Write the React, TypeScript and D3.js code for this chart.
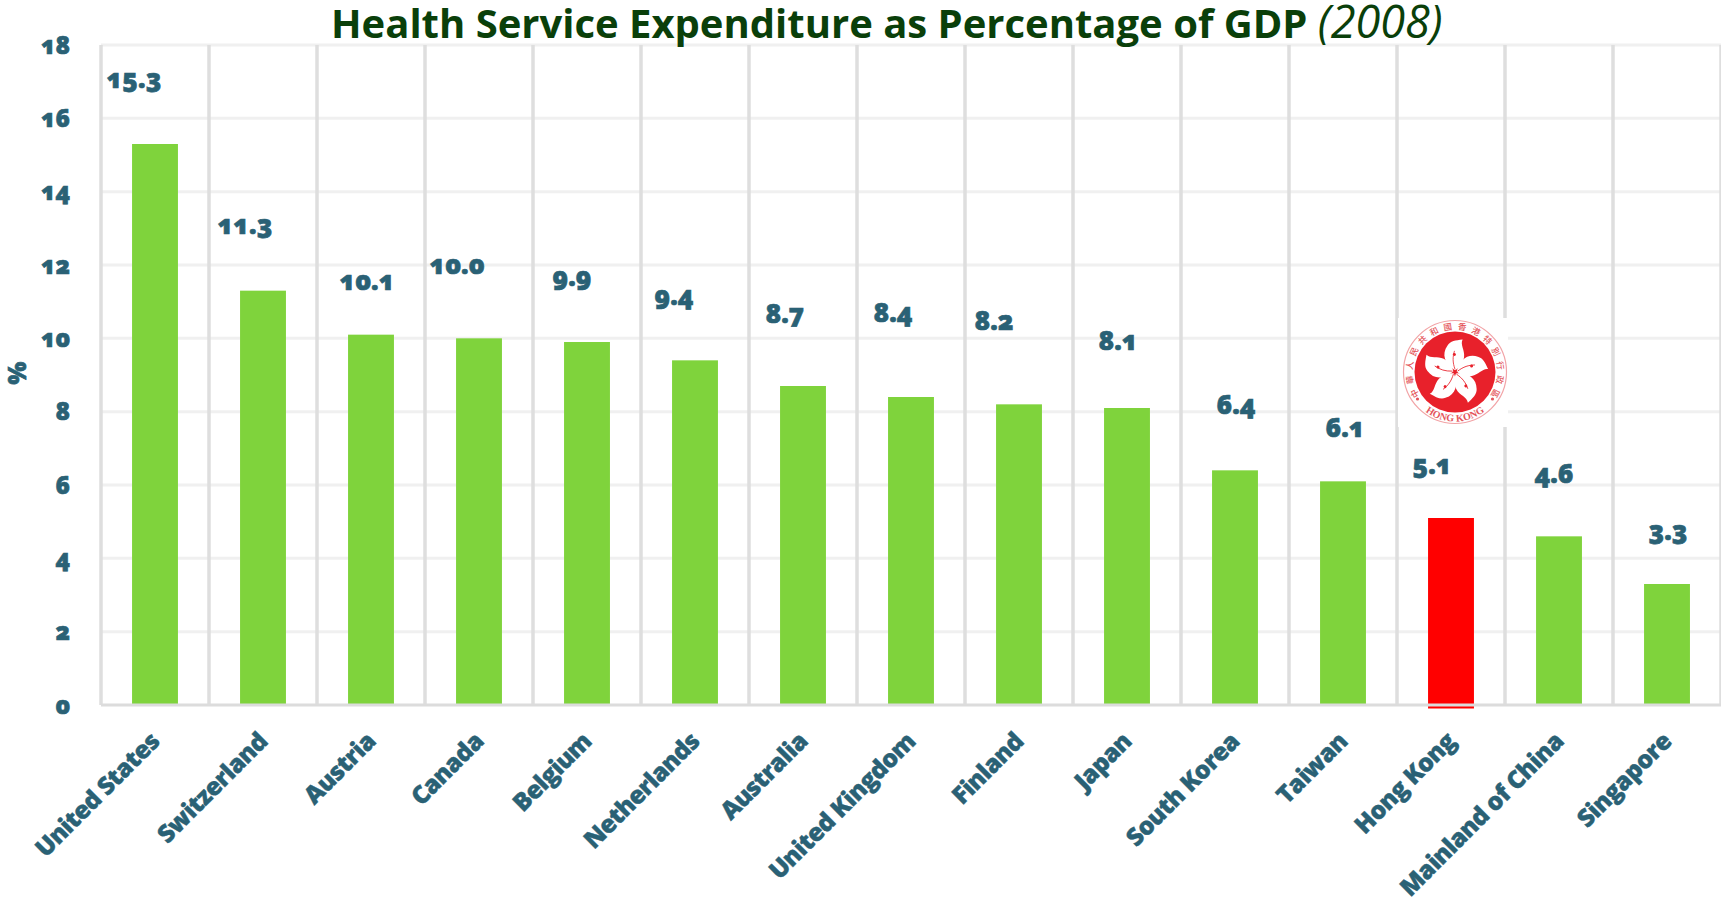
import React from "react";
import * as d3 from "d3";

const countries = ["United States","Switzerland","Austria","Canada","Belgium","Netherlands","Australia","United Kingdom","Finland","Japan","South Korea","Taiwan","Hong Kong","Mainland of China","Singapore"];
const shares = [15.3,11.3,10.1,10.0,9.9,9.4,8.7,8.4,8.2,8.1,6.4,6.1,5.1,4.6,3.3];
const highlighted = ["Hong Kong"];
const yTicks = [0,2,4,6,8,10,12,14,16,18];
const emblemRingText = "中華人民共和國香港特別行政區";

// Hand-placed value labels: horizontal shift from the bar centre, lift above the bar top.
const labelShiftX = [-21,-18,-4,-22,-15,-21,-18,-18,-25,-9,1,2,-19,-5,1];
const labelLift = [65,66,54,74,65,65,72,84,84,67,66,54,53,63,53];

const W = 1721, H = 901;
const x0 = 101, x1 = 1721, yBase = 705, yTop = 45;
const ink = "#2a6175";
const face = "'Open Sans', sans-serif";

const y = d3.scaleLinear().domain([0, 18]).range([yBase, yTop]);
const x = d3.scaleBand<string>().domain(countries).range([x0, x1]).paddingInner(0.575).paddingOuter(0.2875);
const step = x.step();

const petal = "M0,-2 C-12,-9 -16,-20 -9,-30 C-6,-35 0,-36 8,-37 C5,-31 11,-25 10,-17 C9,-10 5,-5 0,-2 Z";

// Seal of the Hong Kong emblem: ring of characters, red disc, five-petal bauhinia.
function Emblem({ cx, cy }: { cx: number; cy: number }) {
  const low = d3.path();
  low.arc(0, 0, 49.5, Math.PI * 0.85, Math.PI * 0.15, true);
  const charAngle = d3.scaleLinear().domain([0, emblemRingText.length - 1]).range([-118, 118]);
  return (
    <g transform={`translate(${cx},${cy})`}>
      <rect x={-57} y={-54} width={110} height={109} fill="#fff" />
      <circle r={51.5} fill="#fff" stroke="#f2a3a6" strokeWidth={1.2} />
      <circle r={40.5} fill="#e8212b" />
      <defs>
        <path id="emblemLow" d={low.toString()} />
      </defs>
      {Array.from(emblemRingText).map((ch, i) => (
        <text key={i} transform={`rotate(${charAngle(i)}) translate(0,-42.5)`} textAnchor="middle" fontSize={8.5}
          fontFamily="'Noto Sans CJK TC', sans-serif" fontWeight={500} fill="#e4555b">{ch}</text>
      ))}
      <text fontSize={10} fontFamily="'Liberation Serif', serif" fontWeight={700} fill="#e4555b" textAnchor="middle">
        <textPath href="#emblemLow" startOffset="50%">HONG KONG</textPath>
      </text>
      <circle cx={-37.5} cy={27} r={1.6} fill="#e4555b" />
      <circle cx={37.5} cy={27} r={1.6} fill="#e4555b" />
      {d3.range(5).map((i) => (
        <g key={i} transform={`rotate(${i * 72 + 1}) scale(0.88)`}>
          <path d={petal} fill="#fff" />
          <path d="M0,-3 C-3,-11 -3,-17 -1,-24" fill="none" stroke="#e8212b" strokeWidth={0.9} />
          <circle cx={-1} cy={-20} r={1.7} fill="#e8212b" />
        </g>
      ))}
    </g>
  );
}

export default function App() {
  return (
    <svg width={W} height={H} viewBox={`0 0 ${W} ${H}`} style={{ position: "absolute", left: 0, top: 0, display: "block", background: "#fff" }}>
      {yTicks.filter((t) => t > 0).map((t) => (
        <line key={t} x1={x0} x2={x1} y1={y(t)} y2={y(t)} stroke="#f0f0f0" strokeWidth={3} />
      ))}
      {d3.range(countries.length + 1).map((i) => (
        <line key={i} x1={x0 + i * step} x2={x0 + i * step} y1={yTop} y2={yBase} stroke="#dedede" strokeWidth={3.5} />
      ))}

      <Emblem cx={1455} cy={372} />

      {countries.map((c, i) => {
        const hot = highlighted.includes(c);
        return (
          <rect key={c} x={x(c)} y={y(shares[i])} width={x.bandwidth()} height={yBase - y(shares[i]) + (hot ? 3.5 : 0)}
            fill={hot ? "#ff0000" : "#7fd33c"} />
        );
      })}
      <line x1={x0} x2={x1} y1={yBase} y2={yBase} stroke="#dcdcdc" strokeWidth={3} />

      <g fontFamily={face} fontWeight={800} fill={ink} stroke={ink} strokeWidth={0.7} style={{ fontFeatureSettings: "'onum'" }}>
        {yTicks.map((t) => (
          <text key={t} x={70} y={y(t)} dy="0.36em" textAnchor="end" fontSize={24}>{t}</text>
        ))}
        {countries.map((c, i) => (
          <text key={c} x={x(c)! + x.bandwidth() / 2 + labelShiftX[i]} y={y(shares[i]) - labelLift[i]} dy="0.36em" textAnchor="middle" fontSize={26}>
            {shares[i].toFixed(1)}
          </text>
        ))}
        {countries.map((c) => (
          <text key={c} transform={`translate(${x(c)! + x.bandwidth() / 2 + 6},743) rotate(-45)`} textAnchor="end" fontSize={24.5} letterSpacing={-0.6} strokeWidth={0.4}>
            {c}
          </text>
        ))}
        <text transform="translate(26,373) rotate(-90)" textAnchor="middle" fontSize={24}>%</text>
      </g>

      <text x={331} y={38} fontFamily={face} fontSize={40} fill="#0a3f0a">
        <tspan fontWeight={700}>Health Service Expenditure as Percentage of GDP </tspan>
        <tspan fontStyle="italic" fontSize={45}>(2008)</tspan>
      </text>
    </svg>
  );
}
